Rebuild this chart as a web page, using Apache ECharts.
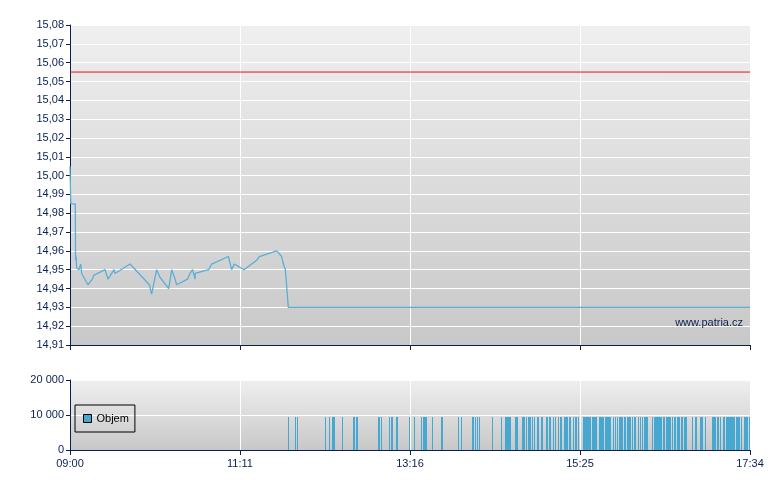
<!DOCTYPE html>
<html>
<head>
<meta charset="utf-8">
<script src="https://cdn.jsdelivr.net/npm/echarts@6/dist/echarts.min.js"></script>
<style>
html,body{margin:0;padding:0;background:#fff;}
#c{width:780px;height:490px;}
</style>
</head>
<body>
<div id="c"></div>
<script>
// minutes since 09:00
var timeTickLabels = ["09:00", "11:11", "13:16", "15:25", "17:34"];
var priceTimes = [0, 0.6, 4.0, 4.2, 4.6, 5.0, 5.6, 6.8, 8.1, 8.8, 13.6, 16.9, 17.9, 26.5, 28.7, 33.3, 34.0, 45.4, 60.0, 61.7, 65.5, 68.0, 74.6, 76.9, 79.4, 80.6, 88.9, 90.7, 92.7, 94.5, 94.6, 104.8, 107.1, 119.7, 122.2, 124.2, 131.5, 141.1, 143.1, 156.2, 160.0, 161.3, 162.8, 165.0, 514];
var priceValues = [15.005, 14.985, 14.985, 14.955, 14.957, 14.951, 14.952, 14.950, 14.953, 14.948, 14.942, 14.945, 14.947, 14.950, 14.945, 14.950, 14.948, 14.953, 14.942, 14.937, 14.950, 14.946, 14.940, 14.950, 14.945, 14.942, 14.945, 14.948, 14.950, 14.945, 14.948, 14.950, 14.953, 14.957, 14.950, 14.953, 14.950, 14.955, 14.957, 14.960, 14.957, 14.953, 14.950, 14.930, 14.930];
var referencePrice = 15.055;
var volTimes = [165, 170, 171.5, 193, 196, 198, 199, 199.5, 205.5, 214, 214.5, 216, 217, 233, 233.5, 235, 241, 242.5, 243.5, 246.5, 247,
  256, 260, 265.5, 267, 267.5, 268.5, 269, 273.5, 280.5, 281, 293.5, 295.5, 304, 304.5, 306, 307.5, 309, 319, 326, 329, 329.5, 330.5, 331, 332, 332.5, 336.5, 337, 338,
  341.5, 342.5, 343, 344.5, 346, 347, 347.5, 349, 350.5, 353, 354, 356, 357, 360, 360.5, 362, 363, 365, 366.5, 369, 370.5, 371, 373.5, 374, 375, 375.5, 377, 378, 380, 381.5, 382.5, 384,
  388, 388.5, 389.5, 390, 391, 391.5, 392.5, 393, 394.5, 395.5, 396, 397, 397.5, 400, 400.5, 401.5, 402, 403, 404.5, 405, 406, 406.5, 407.5, 408, 410.5, 412, 413.5, 415, 415.5, 416.5, 417, 419, 419.5, 421, 422, 422.5, 423.5, 425, 426.5, 427, 429.5, 431,
  432.5, 434, 434.5, 435.5, 436, 440, 441.5, 442, 443, 443.5, 444.5, 445, 446, 446.5, 448, 449, 450.5, 451.5, 452, 453, 453.5, 455, 456.5, 457.5, 459, 459.5, 460.5, 462, 462.5, 464, 465, 465.5, 470, 472.5, 473, 476, 477, 477.5, 480,
  485.5, 486, 487, 487.5, 489, 490, 491.5, 493.5, 494.5, 496, 496.5, 497.5, 498, 499, 499.5, 500.5, 501, 502, 503.5, 504, 505, 505.5, 507, 509.5, 510, 511, 511.5, 513];
var volAmount = 9500;
var volValues = volTimes.map(function(){ return volAmount; });

var navy = '#0a2052';
var barColor = '#46a7d0';
var font = 'Liberation Sans, Arial, sans-serif';
function bg(){
  return new echarts.graphic.LinearGradient(0,0,0,1,[{offset:0,color:'#efefef'},{offset:1,color:'#c8c8c8'}]);
}
var tickStep = 514/4;
function timeLabel(v){
  var i = Math.round(v/tickStep);
  return timeTickLabels[i] || '';
}
var chart = echarts.init(document.getElementById('c'), null, {renderer:'canvas'});
chart.setOption({
  animation:false,
  backgroundColor:'#ffffff',
  textStyle:{fontFamily:font},
  grid:[
    {left:70, top:25, width:680, height:320, show:true, backgroundColor:bg(), borderWidth:0},
    {left:70, top:380, width:680, height:70, show:true, backgroundColor:bg(), borderWidth:0}
  ],
  legend:{
    data:[{name:'Objem', icon:'rect'}],
    left:75, top:405,
    orient:'vertical',
    padding:[8,6,8,8],
    itemWidth:8, itemHeight:8, itemGap:4,
    borderColor:'#000', borderWidth:1,
    backgroundColor:'rgba(0,0,0,0)',
    textStyle:{fontSize:11, color:'#000', fontFamily:font},
    itemStyle:{borderColor:'#000', borderWidth:1}
  },
  xAxis:[
    {type:'value', gridIndex:0, min:0, max:514, interval:tickStep,
     axisLine:{show:true, onZero:false, lineStyle:{color:navy, width:1}},
     axisTick:{show:true, length:5, lineStyle:{color:navy}},
     axisLabel:{show:false},
     splitLine:{show:true, lineStyle:{color:'#ffffff', width:1}}},
    {type:'value', gridIndex:1, min:0, max:514, interval:tickStep,
     axisLine:{show:true, onZero:false, lineStyle:{color:navy, width:1}},
     axisTick:{show:true, length:5, lineStyle:{color:navy}},
     axisLabel:{show:true, color:navy, fontSize:11, fontFamily:font, margin:8, formatter:timeLabel},
     splitLine:{show:true, lineStyle:{color:'#ffffff', width:1}}}
  ],
  yAxis:[
    {type:'value', gridIndex:0, min:14.91, max:15.08, interval:0.01,
     axisLine:{show:true, onZero:false, lineStyle:{color:navy, width:1}},
     axisTick:{show:true, length:4, lineStyle:{color:navy}},
     axisLabel:{color:navy, fontSize:11, fontFamily:font, margin:6,
       formatter:function(v){ return v.toFixed(2).replace('.', ','); }},
     splitLine:{show:true, lineStyle:{color:'#ffffff', width:1}}},
    {type:'value', gridIndex:1, min:0, max:20000, interval:10000,
     axisLine:{show:true, onZero:false, lineStyle:{color:navy, width:1}},
     axisTick:{show:true, length:4, lineStyle:{color:navy}},
     axisLabel:{color:navy, fontSize:11, fontFamily:font, margin:6,
       formatter:function(v){ return String(Math.round(v)).replace(/\B(?=(\d{3})+(?!\d))/g, ' '); }},
     splitLine:{show:true, lineStyle:{color:'#ffffff', width:1}}}
  ],
  graphic:[
    {type:'text', right:37, top:317, z:10,
     style:{text:'www.patria.cz', font:'11px '+font, fill:navy}}
  ],
  series:[
    {name:'Reference', type:'line', xAxisIndex:0, yAxisIndex:0,
     data:[[0, referencePrice], [514, referencePrice]],
     showSymbol:false, symbol:'none', z:3,
     lineStyle:{color:'#f01010', width:1},
     itemStyle:{color:'#f01010'}},
    {name:'Cena', type:'line', xAxisIndex:0, yAxisIndex:0,
     data:priceTimes.map(function(t,i){ return [t, priceValues[i]]; }),
     showSymbol:false, symbol:'none', z:4,
     lineStyle:{color:'#5aaed8', width:1.3},
     itemStyle:{color:'#5aaed8'}},
    {name:'Objem', type:'custom', xAxisIndex:1, yAxisIndex:1,
     data:volTimes.map(function(t,i){ return [t, volValues[i]]; }),
     itemStyle:{color:barColor},
     encode:{x:0, y:1},
     renderItem:function(params, api){
       var top = api.coord([api.value(0), api.value(1)]);
       var base = api.coord([api.value(0), 0]);
       var px = Math.round(top[0]);
       var py = Math.round(top[1]);
       return {type:'rect',
         shape:{x:px, y:py, width:1, height:Math.round(base[1]) - py},
         style:{fill:barColor}};
     }}
  ]
});
</script>
</body>
</html>
